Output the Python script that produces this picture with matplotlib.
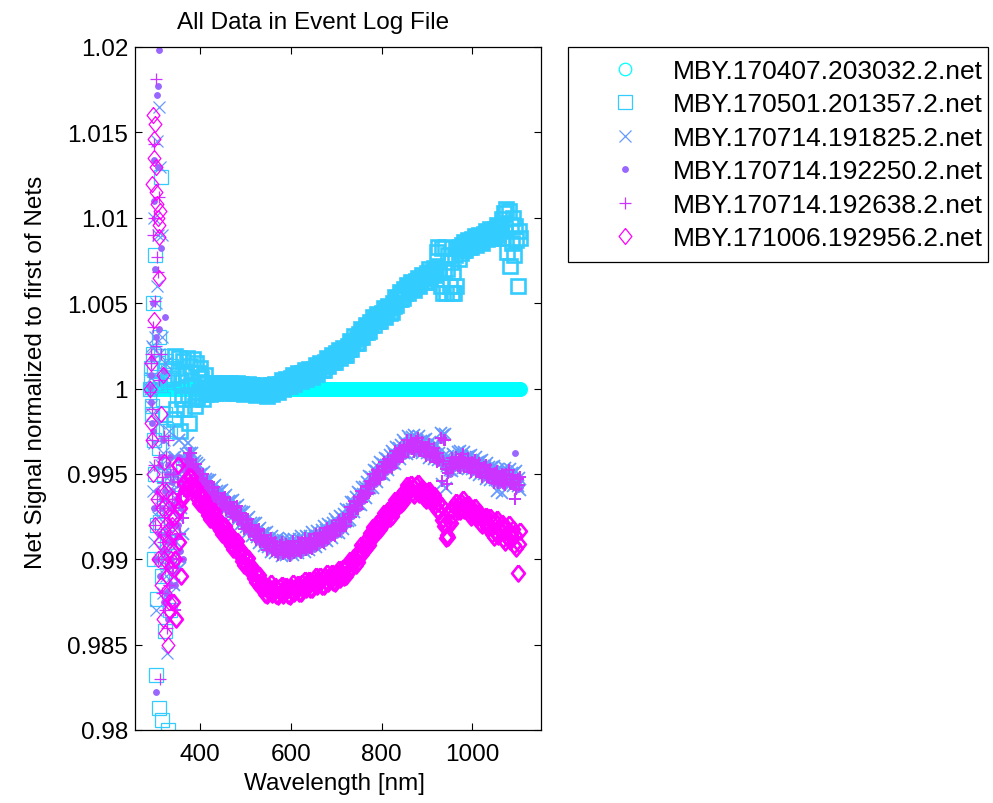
import numpy as np
import matplotlib
matplotlib.use("Agg")
import matplotlib.pyplot as plt

# ---------------- data ----------------
# wavelength grid [nm]: UV part (1 nm steps) and visible/NIR part (2.5 nm steps)
wavelength_uv = [290 + i for i in range(50)]
wavelength_vis = [340 + 2.5 * i for i in range(307)]

series_names = [
    "MBY.170407.203032.2.net",
    "MBY.170501.201357.2.net",
    "MBY.170714.191825.2.net",
    "MBY.170714.192250.2.net",
    "MBY.170714.192638.2.net",
    "MBY.171006.192956.2.net",
]

# deviations of (net / first net) from 1, in units of 1e-5
dev_170501_uv = [0, 50, 120, -150, -100, 200, 500, -300, -1000, 110, 780, -500, -1680, 30, -1230, -800,
                 190, 150, -1870, -350, 300, 20, -780, 190, 1240, -1100, -1940, -60, -250, 100, -510, -700,
                 -1420, -150, -240, 160, 50, -900, -2000, 40, -980, -450, 60, -250, -1300, 80, 130, -1000,
                 -560, 120]
dev_170501_vis = [
    60, -180, 190, -120, 80, 180, -250, 40, -60, 160, -120, 90, 180, -40, -200, 130, 20, -60, 170, -100,
    150, -50, 90, -20, 120, 60, -60, 30, 80, -30, 25, -20, 5, -30, 15, -10, 30, -25, 10, -5,
    30, -15, 10, -25, 20, -5, 35, -20, 15, 0, 30, -15, 10, -25, 20, -5, 30, -25, 10, -5,
    25, -21, 4, -32, 13, -13, 26, -29, 5, -10, 19, -27, -2, -38, 7, -19, 20, -35, -1, -16,
    13, -32, -6, -41, 5, -19, 22, -32, 5, -7, 27, -15, 13, -19, 29, 7, 50, -2, 36, 24,
    57, 15, 44, 12, 60, 38, 81, 29, 67, 56, 89, 47, 75, 42, 90, 67, 110, 57, 95, 82,
    115, 73, 101, 69, 117, 95, 138, 86, 125, 114, 149, 108, 137, 107, 156, 136, 180, 130, 170, 160,
    195, 155, 185, 155, 205, 184, 228, 176, 215, 204, 237, 196, 225, 197, 250, 232, 280, 232, 275, 267,
    305, 266, 298, 269, 320, 301, 348, 299, 340, 332, 370, 332, 365, 337, 390, 372, 420, 370, 410, 400,
    435, 395, 425, 395, 445, 425, 470, 420, 460, 450, 485, 445, 475, 449, 502, 486, 535, 489, 532, 526,
    565, 526, 557, 529, 580, 561, 608, 559, 600, 589, 623, 581, 610, 579, 627, 606, 650, 600, 640, 630,
    665, 625, 655, 625, 675, 654, 698, 646, 685, 674, 707, 666, 695, 800, 830, 686, 600, 820, 560, 695,
    830, 560, 700, 780, 600, 740, 560, 680, 560, 780, 600, 820, 760, 830, 795, 840, 810, 860, 810, 845,
    870, 829, 857, 826, 875, 852, 895, 843, 880, 867, 900, 858, 885, 854, 903, 881, 925, 874, 912, 901,
    935, 890, 915, 880, 935, 910, 960, 900, 945, 920, 990, 880, 1030, 940, 1050, 800, 1040, 720, 960, 850,
    1000, 780, 950, 870, 600, 920, 880]

dev_191825_uv = [0, -100, 60, 250, -150, -600, 240, 1000, -320, -900, -460, 300, 500, -1300, 1450, 600,
                 900, -750, 1650, 200, -200, -1000, 1300, -450, -700, 900, 300, -1200, -380, -650, -900, -300,
                 150, -1050, -1100, -800, -1550, -500, -600, -1250, -250, -700, -850, -950, -1200, -550, -500,
                 -1100, -700, -400]
dev_191825_vis = [
    -600, -1150, -400, -900, -750, -300, -1050, -700, -520, -850, -480, -385, -425, -320, -420, -380, -460, -375, -440, -425,
    -505, -437, -500, -448, -540, -499, -578, -491, -550, -529, -608, -536, -595, -536, -623, -579, -655, -566, -623, -599,
    -675, -601, -656, -597, -682, -638, -714, -624, -680, -656, -731, -657, -713, -653, -739, -694, -770, -683, -740, -717,
    -795, -723, -780, -722, -810, -766, -842, -754, -810, -786, -863, -789, -845, -786, -872, -829, -905, -816, -872, -849,
    -925, -849, -904, -843, -928, -882, -956, -866, -920, -892, -964, -886, -937, -874, -956, -908, -980, -885, -935, -905,
    -975, -895, -945, -880, -960, -908, -976, -879, -927, -896, -964, -882, -930, -863, -941, -889, -958, -861, -909, -877,
    -945, -862, -909, -841, -918, -864, -931, -833, -880, -846, -913, -829, -875, -806, -882, -829, -895, -796, -841, -807,
    -873, -788, -834, -764, -840, -784, -849, -748, -793, -757, -821, -736, -780, -704, -774, -713, -772, -667, -706, -666,
    -725, -637, -679, -606, -678, -619, -681, -578, -620, -579, -639, -548, -587, -512, -581, -521, -580, -477, -520, -483,
    -545, -457, -500, -428, -500, -444, -508, -406, -450, -414, -478, -391, -435, -364, -438, -381, -445, -344, -388, -351,
    -415, -329, -373, -301, -375, -319, -383, -281, -325, -295, -365, -285, -335, -270, -350, -300, -370, -279, -333, -306,
    -380, -304, -357, -296, -380, -333, -406, -314, -368, -341, -414, -327, -390, -332, -419, -376, -260, -560, -270, -398,
    -265, -580, -455, -395, -480, -422, -485, -383, -425, -394, -464, -373, -433, -367, -447, -396, -465, -373, -426, -399,
    -472, -396, -449, -387, -470, -423, -496, -404, -457, -431, -504, -427, -480, -418, -501, -454, -528, -436, -489, -462,
    -535, -459, -513, -451, -535, -489, -600, -471, -525, -494, -610, -481, -530, -464, -542, -491, -560, -469, -523, -496,
    -570, -494, -547, -486, -570, -523, -596]

dev_192250_uv = [10, 80, -80, -200, 180, 500, -250, -700, 1340, 1100, 700, -1000, -1780, 300, 1720, -600,
                 1770, 1300, 1980, -850, 350, -1100, -450, -400, 820, -700, -650, -950, -300, 100, -950, -1250,
                 420, -600, -1200, -850, -500, -1050, -1350, -450, -800, -900, -1000, -700, -400, -1000, -1150,
                 -550, -600, -800]
dev_192250_vis = [
    -900, -500, -1150, -650, -800, -400, -950, -700, -550, -1000, -480, -420, -450, -410, -440, -390, -440, -425, -480, -465,
    -480, -472, -525, -508, -560, -509, -558, -541, -590, -569, -583, -571, -620, -596, -643, -589, -635, -616, -663, -639,
    -650, -636, -681, -657, -702, -648, -694, -674, -720, -696, -706, -692, -738, -713, -759, -704, -750, -733, -780, -757,
    -770, -758, -805, -782, -830, -776, -822, -804, -850, -826, -838, -824, -870, -846, -892, -839, -885, -866, -912, -889,
    -900, -884, -929, -903, -948, -892, -936, -916, -960, -932, -939, -921, -962, -934, -976, -918, -960, -935, -975, -945,
    -950, -930, -970, -940, -980, -918, -956, -929, -967, -936, -939, -917, -955, -923, -961, -899, -938, -911, -949, -917,
    -920, -897, -934, -901, -938, -874, -911, -883, -920, -886, -888, -864, -900, -866, -902, -839, -875, -846, -881, -847,
    -848, -823, -859, -824, -860, -794, -829, -798, -833, -797, -796, -771, -805, -764, -794, -723, -752, -717, -746, -706,
    -700, -672, -704, -666, -698, -629, -661, -628, -660, -619, -614, -583, -612, -572, -601, -531, -560, -527, -560, -523,
    -520, -492, -525, -488, -520, -454, -488, -456, -490, -454, -453, -426, -460, -424, -458, -391, -425, -394, -428, -391,
    -390, -364, -398, -361, -395, -329, -363, -331, -365, -335, -340, -320, -360, -330, -370, -310, -350, -329, -373, -346,
    -355, -339, -382, -356, -400, -343, -386, -364, -408, -381, -389, -372, -415, -392, -439, -386, -300, -414, -461, -438,
    -450, -435, -480, -455, -500, -432, -465, -433, -465, -434, -439, -418, -458, -427, -467, -406, -445, -423, -466, -439,
    -447, -431, -474, -447, -490, -433, -476, -454, -497, -471, -479, -462, -505, -478, -521, -464, -508, -486, -529, -502,
    -510, -494, -538, -511, -555, -499, -542, -521, -565, -534, -538, -516, -555, -524, -562, -501, -540, -519, -563, -536,
    -545, -529, -380, -546, -590, -533, -576]

dev_192638_uv = [-20, 150, 200, -300, -120, 900, 360, -450, 1430, 1000, 510, -800, 1810, 250, 770, -650,
                 680, -1000, 1120, 50, -400, -700, -1700, -850, 200, -1200, -520, -550, -900, -950, -280, -750,
                 -1050, -1300, -650, -400, -1400, -1000, -300, -650, -800, -1150, -1150, -850, -500, -700, -900,
                 -1050, -650, -500]
dev_192638_vis = [
    -1050, -700, -1300, -880, -550, -1000, -850, -620, -450, -760, -600, -455, -410, -450, -380, -420, -380, -460, -445, -475,
    -440, -507, -485, -548, -500, -539, -498, -576, -555, -579, -543, -606, -580, -636, -583, -619, -575, -651, -628, -649,
    -610, -671, -641, -697, -642, -678, -634, -709, -685, -706, -666, -727, -698, -753, -699, -734, -690, -768, -745, -767,
    -730, -793, -765, -822, -770, -806, -762, -839, -815, -836, -798, -859, -830, -886, -832, -869, -825, -901, -877, -899,
    -860, -919, -889, -943, -888, -922, -876, -951, -925, -942, -899, -956, -922, -974, -916, -948, -900, -970, -940, -955,
    -910, -965, -930, -980, -920, -948, -896, -964, -932, -946, -899, -952, -915, -963, -901, -929, -878, -946, -914, -927,
    -880, -932, -894, -941, -878, -904, -851, -918, -885, -896, -848, -899, -860, -906, -842, -869, -815, -881, -846, -857,
    -808, -858, -819, -864, -800, -824, -769, -833, -798, -807, -756, -806, -765, -804, -734, -753, -692, -752, -711, -716,
    -660, -707, -664, -706, -638, -659, -601, -663, -625, -629, -574, -618, -572, -612, -541, -561, -500, -562, -525, -533,
    -480, -527, -485, -528, -460, -484, -428, -491, -455, -464, -413, -461, -420, -464, -398, -421, -365, -429, -393, -401,
    -350, -399, -358, -401, -335, -359, -303, -366, -330, -345, -300, -355, -320, -370, -310, -340, -290, -364, -338, -356,
    -315, -374, -342, -396, -340, -373, -326, -399, -373, -391, -349, -407, -375, -432, -379, -416, -290, -540, -426, -300,
    -300, -470, -560, -495, -440, -462, -405, -468, -430, -444, -399, -453, -418, -467, -407, -436, -385, -458, -431, -449,
    -407, -466, -434, -487, -430, -463, -416, -489, -462, -481, -439, -497, -465, -518, -461, -494, -448, -521, -494, -512,
    -470, -529, -498, -551, -495, -529, -482, -556, -530, -544, -498, -551, -515, -564, -502, -531, -480, -554, -528, -546,
    -505, -564, -650, -586, -530, -563, -516]

dev_171006_uv = [0, -200, 150, 1200, -300, -500, 1600, 1350, 1460, 400, 1550, -800, 1300, 1150, 1080, -650,
                 1000, -1000, 960, 650, 890, -900, 1040, -1150, -150, -700, -600, -1350, 80, -1000, -430, -850,
                 -1430, -1200, -800, -600, -1100, -1100, -1500, -900, -700, -1300, -1250, -750, -950, -1000,
                 -1050, -850, -800, -650]
dev_171006_vis = [
    -1250, -750, -1000, -1350, -450, -900, -700, -1100, -650, -625, -555, -590, -530, -570, -510, -557, -520, -591, -572, -599,
    -575, -642, -615, -673, -630, -674, -633, -701, -680, -704, -678, -741, -710, -764, -718, -761, -720, -789, -768, -791,
    -765, -829, -798, -851, -805, -849, -808, -876, -855, -879, -853, -916, -885, -939, -893, -936, -895, -965, -945, -970,
    -945, -1010, -980, -1035, -990, -1035, -995, -1065, -1045, -1070, -1045, -1110, -1080, -1135, -1090, -1135, -1095, -1165, -1145, -1170,
    -1145, -1201, -1162, -1209, -1155, -1191, -1142, -1204, -1175, -1191, -1156, -1212, -1172, -1218, -1164, -1199, -1150, -1209, -1179, -1193,
    -1157, -1212, -1171, -1216, -1160, -1193, -1141, -1199, -1167, -1181, -1144, -1197, -1155, -1197, -1140, -1172, -1120, -1177, -1145, -1157,
    -1120, -1173, -1131, -1174, -1118, -1151, -1099, -1157, -1125, -1138, -1101, -1154, -1112, -1156, -1099, -1132, -1080, -1138, -1106, -1119,
    -1083, -1136, -1094, -1137, -1080, -1111, -1057, -1114, -1080, -1091, -1052, -1104, -1060, -1097, -1035, -1063, -1005, -1057, -1020, -1028,
    -985, -1031, -981, -1017, -953, -978, -919, -969, -930, -934, -887, -931, -880, -914, -847, -871, -810, -862, -824, -831,
    -788, -835, -786, -823, -760, -787, -730, -783, -745, -752, -710, -758, -710, -747, -684, -711, -653, -704, -666, -673,
    -630, -676, -626, -662, -598, -623, -564, -614, -575, -591, -557, -614, -575, -621, -567, -604, -555, -619, -592, -611,
    -580, -639, -602, -651, -600, -640, -595, -660, -635, -655, -625, -685, -650, -710, -670, -720, -685, -770, -765, -805,
    -795, -875, -860, -870, -780, -787, -710, -743, -685, -699, -663, -716, -675, -719, -664, -696, -645, -710, -685, -705,
    -675, -735, -700, -750, -700, -740, -695, -760, -735, -755, -725, -785, -750, -800, -750, -790, -745, -810, -785, -805,
    -755, -853, -791, -869, -777, -841, -764, -862, -820, -843, -786, -884, -823, -901, -809, -872, -795, -894, -853, -876,
    -820, -919, -857, -936, -1080, -909, -833]

y_ticks = [0.98, 0.985, 0.99, 0.995, 1.0, 1.005, 1.01, 1.015, 1.02]
y_tick_labels = ["0.98", "0.985", "0.99", "0.995", "1", "1.005", "1.01", "1.015", "1.02"]
x_ticks = [400, 600, 800, 1000]
x_tick_labels = ["400", "600", "800", "1000"]

# ---------------- assemble ----------------
wl_uv = np.array(wavelength_uv, dtype=float)
wl_vis = np.array(wavelength_vis, dtype=float)
parts = [
    (np.ones_like(wl_uv), np.ones_like(wl_vis)),  # first net normalised to itself
    (1 + np.array(dev_170501_uv) * 1e-5, 1 + np.array(dev_170501_vis) * 1e-5),
    (1 + np.array(dev_191825_uv) * 1e-5, 1 + np.array(dev_191825_vis) * 1e-5),
    (1 + np.array(dev_192250_uv) * 1e-5, 1 + np.array(dev_192250_vis) * 1e-5),
    (1 + np.array(dev_192638_uv) * 1e-5, 1 + np.array(dev_192638_vis) * 1e-5),
    (1 + np.array(dev_171006_uv) * 1e-5, 1 + np.array(dev_171006_vis) * 1e-5),
]

plt.rcParams['font.family'] = ['Liberation Sans', 'DejaVu Sans']
FS = 17.5

colors = [(0, 1, 1), (0.2, 0.8, 1), (0.4, 0.6, 1), (0.6, 0.4, 1), (0.8, 0.2, 1), (1, 0, 1)]
diamond = [(0, 1), (0.8, 0), (0, -1), (-0.8, 0), (0, 1)]
styles = [
    dict(marker='o', ms=9.0, mfc='none'),
    dict(marker='s', ms=9.8, mfc='none'),
    dict(marker='x', ms=8.0),
    dict(marker='.', ms=8.0),
    dict(marker='+', ms=9.0),
    dict(marker=diamond, ms=11.5, mfc='none'),
]
# edge width of the densely sampled part (overlapping markers form a solid band)
dense_mew = [1.8, 1.9, 1.3, 0.9, 1.4, 1.9]

W, H = 993, 804
fig = plt.figure(figsize=(W / 100, H / 100), dpi=100)
L, R, T, B = 135, 540.7, 48, 731
ax = fig.add_axes([L / W, 1 - B / H, (R - L) / W, (B - T) / H])

handles = []
for (y_uv, y_vis), name, c, st, mw in zip(parts, series_names, colors, styles, dense_mew):
    h, = ax.plot(wl_uv, y_uv, linestyle='none', color=c, mec=c, mew=0.9, label=name, **st)
    ax.plot(wl_vis, y_vis, linestyle='none', color=c, mec=c, mew=mw, label='_nolegend_', **st)
    handles.append(h)

ax.set_xlim(256, 1151)
ax.set_ylim(0.98, 1.02)
ax.set_xticks(x_ticks)
ax.set_xticklabels(x_tick_labels)
ax.set_yticks(y_ticks)
ax.set_yticklabels(y_tick_labels)
ax.tick_params(direction='in', length=5, width=0.8, top=True, right=True,
               labelsize=FS, colors='black')
ax.tick_params(axis='x', pad=9.5)
ax.tick_params(axis='y', pad=5)
for s in ax.spines.values():
    s.set_linewidth(0.9)
    s.set_color('black')

fig.text(313 / W, 1 - 23 / H, "All Data in Event Log File", ha='center', va='center', fontsize=FS)
fig.text(334 / W, 1 - 784 / H, "Wavelength [nm]", ha='center', va='center', fontsize=FS)
fig.text(36 / W, 1 - 372 / H, "Net Signal normalized to first of Nets", ha='center', va='center',
         rotation=90, fontsize=FS)

leg = ax.legend(handles=handles, loc='upper left',
                bbox_to_anchor=(568 / W, 1 - 265 / H, 420 / W, 217 / H),
                bbox_transform=fig.transFigure, mode='expand', borderaxespad=0, frameon=True,
                fancybox=False, edgecolor='black', framealpha=1, fontsize=19,
                handlelength=3.42, handletextpad=0.11, borderpad=0.45, labelspacing=0.36,
                numpoints=1)
leg.get_frame().set_linewidth(0.9)

fig.savefig("out.png", dpi=100)
